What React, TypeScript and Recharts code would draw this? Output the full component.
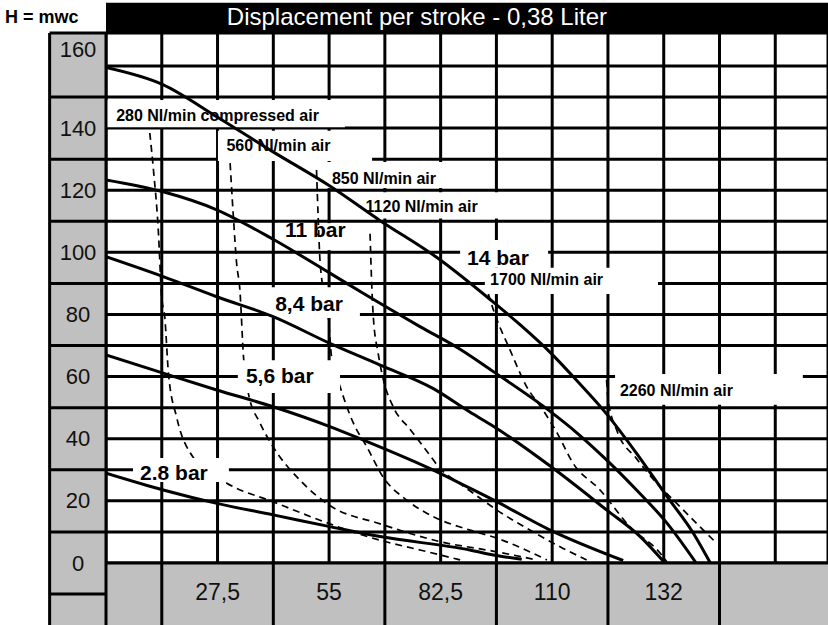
import React from 'react';
import { LineChart, Line, XAxis, YAxis, CartesianGrid, ReferenceArea, ReferenceLine } from 'recharts';

const FONT = '"Liberation Sans", Arial, Helvetica, sans-serif';

// ---- axes / ticks ----
const xDomain: [number, number] = [0, 178];
const yDomain: [number, number] = [0, 170.6];
const xGridTicks = [0, 13.75, 27.5, 41.25, 55, 68.75, 82.5, 96.25, 110, 123.75, 137.5, 151.25, 165];
const yGridTicks = [0, 10, 20, 30, 40, 50, 60, 70, 80, 90, 100, 110, 120, 130, 140, 150, 160];
const xTickValues = [27.5, 55, 82.5, 110, 137.5];
const xTickTexts = ['27,5', '55', '82,5', '110', '132'];
const yTickValues = [0, 20, 40, 60, 80, 100, 120, 140, 160];
const xBandSeparators = [13.75, 41.25, 68.75, 96.25, 123.75, 151.25];
const yColumnSeparators = [150, 130, 110, 90, 70, 50, 30, 10, -10];
const LEFT_EDGE = -13.9;
const BOTTOM_EDGE = -20;
const TITLE_TOP = 180.3;
const TITLE = 'Displacement per stroke - 0,38 Liter';
const Y_UNIT = 'H = mwc';

// ---- pressure curves (solid) ----
const bar14 = [
  { x: 0, y: 159.5 }, { x: 14, y: 154 }, { x: 27.5, y: 143.5 }, { x: 41, y: 132.5 }, { x: 55, y: 121.5 },
  { x: 67.6, y: 110.2 }, { x: 81.5, y: 98.4 }, { x: 95, y: 84.5 }, { x: 102, y: 76.8 }, { x: 109.5, y: 67.8 },
  { x: 116, y: 58.8 }, { x: 123.4, y: 48 }, { x: 130.8, y: 35.3 }, { x: 138.2, y: 21.6 }, { x: 144.8, y: 9.6 },
  { x: 149, y: 0 },
];
const bar11 = [
  { x: 0, y: 123.3 }, { x: 14.1, y: 119.5 }, { x: 27.3, y: 113.7 }, { x: 41.2, y: 104.2 }, { x: 55.2, y: 93.3 },
  { x: 63.4, y: 86.8 }, { x: 77.4, y: 76.1 }, { x: 87.3, y: 68.8 }, { x: 95.5, y: 61.6 }, { x: 109.5, y: 48.8 },
  { x: 116, y: 42 }, { x: 123.4, y: 33.2 }, { x: 130.8, y: 23.5 }, { x: 138.2, y: 13 }, { x: 145.5, y: 0 },
];
const bar84 = [
  { x: 0, y: 98.6 }, { x: 14.1, y: 92.2 }, { x: 27.3, y: 85.7 }, { x: 41.2, y: 79.3 }, { x: 55.2, y: 70.7 },
  { x: 67.6, y: 63.7 }, { x: 80.6, y: 56.2 }, { x: 89.7, y: 48.6 }, { x: 95.4, y: 44.1 }, { x: 109.5, y: 31.2 },
  { x: 123.4, y: 17.1 }, { x: 131.7, y: 8.5 }, { x: 137.8, y: 0 },
];
const bar56 = [
  { x: 0, y: 67 }, { x: 14.1, y: 61.1 }, { x: 27.3, y: 55.7 }, { x: 41.2, y: 50.3 }, { x: 55.2, y: 43.9 },
  { x: 63.4, y: 39.6 }, { x: 80.7, y: 29.9 }, { x: 89.7, y: 24.1 }, { x: 95.5, y: 20.3 }, { x: 109.5, y: 10.6 },
  { x: 127.5, y: 0.8 },
];
const bar28 = [
  { x: 0, y: 28.9 }, { x: 14.1, y: 23.5 }, { x: 27.3, y: 19.2 }, { x: 41.2, y: 15.5 }, { x: 55.2, y: 11.7 },
  { x: 67.6, y: 8.5 }, { x: 89.7, y: 4.2 }, { x: 95.5, y: 2.6 }, { x: 102.5, y: 1.2 },
];

// ---- air consumption curves (dashed) ----
const air280 = [
  { x: 10.8, y: 138.4 }, { x: 11.7, y: 126.5 }, { x: 12.9, y: 107 }, { x: 13.7, y: 86 }, { x: 14.5, y: 79 },
  { x: 15.4, y: 61 }, { x: 17.4, y: 47 }, { x: 21.5, y: 34 }, { x: 29.8, y: 25.7 }, { x: 41.2, y: 19.7 },
  { x: 55.2, y: 12.6 }, { x: 67.6, y: 7.3 }, { x: 77.4, y: 4.2 }, { x: 87.3, y: 1 },
];
const air560 = [
  { x: 30.6, y: 128.7 }, { x: 31.4, y: 111.5 }, { x: 32.2, y: 96.5 }, { x: 33, y: 88 }, { x: 33.9, y: 66.4 },
  { x: 35.1, y: 54.6 }, { x: 38, y: 45 }, { x: 41.2, y: 37.4 }, { x: 47.8, y: 26.7 }, { x: 55.2, y: 18.5 },
  { x: 67.6, y: 12.6 }, { x: 82.3, y: 6.9 }, { x: 96.3, y: 3.6 }, { x: 106.2, y: 1 },
];
const air850 = [
  { x: 51.9, y: 126.5 }, { x: 52.3, y: 111.5 }, { x: 52.8, y: 96.5 }, { x: 54.8, y: 79.3 }, { x: 55.6, y: 66.4 },
  { x: 57.7, y: 56.8 }, { x: 61, y: 45 }, { x: 64.3, y: 37.4 }, { x: 68.4, y: 27.5 }, { x: 74.1, y: 20.3 },
  { x: 80.7, y: 14.9 }, { x: 89.7, y: 10.6 }, { x: 96.3, y: 8 }, { x: 108.7, y: 1 },
];
const air1120 = [
  { x: 65.1, y: 106 }, { x: 65.5, y: 90 }, { x: 65.9, y: 79.3 }, { x: 67.1, y: 67.5 }, { x: 68.4, y: 58.9 },
  { x: 70.8, y: 50.3 }, { x: 75, y: 43 }, { x: 79.1, y: 36 }, { x: 82.3, y: 30.5 }, { x: 87.3, y: 25.5 },
  { x: 90.6, y: 22.4 }, { x: 96.3, y: 17.1 }, { x: 104.5, y: 10.6 }, { x: 112.7, y: 4.7 }, { x: 118.5, y: 1 },
];
const air1700 = [
  { x: 93.4, y: 90.5 }, { x: 95.5, y: 81.5 }, { x: 99.6, y: 68.6 }, { x: 103.7, y: 56.8 }, { x: 107.7, y: 49.3 },
  { x: 111.2, y: 41.9 }, { x: 115.1, y: 32.2 }, { x: 121.8, y: 23.5 }, { x: 129.2, y: 11.6 }, { x: 136.6, y: 3.2 },
  { x: 138.3, y: 0.3 },
];
const air2260 = [
  { x: 123.4, y: 58.9 }, { x: 123.8, y: 52.5 }, { x: 125.9, y: 42.8 }, { x: 130.8, y: 33.6 }, { x: 135.8, y: 25.7 },
  { x: 140.7, y: 19.2 }, { x: 146.4, y: 11.7 }, { x: 150.6, y: 6.3 },
];

const solidSeries = [bar14, bar11, bar84, bar56, bar28];
const dashedSeries = [air280, air560, air850, air1120, air1700, air2260];

// ---- annotations (data-space boxes and text anchors) ----
type Note = { text: string; x1: number; x2: number; y1: number; y2: number; tx: number; ty: number; size: number; weight: string; fill: string; color: string };
const notes: Note[] = [
  { text: '280 Nl/min compressed air', x1: 0, x2: 58.9, y1: 140.3, y2: 149.0, tx: 2.5, ty: 144.2, size: 16, weight: 'bold', fill: '#fff', color: '#000' },
  { text: '560 Nl/min air', x1: 27.6, x2: 65.6, y1: 129.4, y2: 139.1, tx: 29.7, ty: 134.4, size: 16, weight: 'bold', fill: '#fff', color: '#000' },
  { text: '850 Nl/min air', x1: 54.0, x2: 83.6, y1: 120.7, y2: 129.1, tx: 55.7, ty: 123.7, size: 16, weight: 'bold', fill: '#fff', color: '#000' },
  { text: '1120 Nl/min air', x1: 63.1, x2: 97.1, y1: 110.9, y2: 119.3, tx: 64.0, ty: 114.7, size: 16, weight: 'bold', fill: '#fff', color: '#000' },
  { text: '11 bar', x1: 53.0, x2: 60.6, y1: 100.7, y2: 109.4, tx: 44.1, ty: 107.4, size: 21, weight: 'bold', fill: '#fff', color: '#000' },
  { text: '14 bar', x1: 87.3, x2: 109.0, y1: 95.0, y2: 104.0, tx: 89.0, ty: 98.3, size: 21, weight: 'bold', fill: '#fff', color: '#000' },
  { text: '1700 Nl/min air', x1: 93.4, x2: 136.1, y1: 86.6, y2: 95.0, tx: 94.7, ty: 91.4, size: 16, weight: 'bold', fill: '#fff', color: '#000' },
  { text: '8,4 bar', x1: 39.9, x2: 62.6, y1: 78.9, y2: 88.8, tx: 41.7, ty: 83.6, size: 21, weight: 'bold', fill: '#fff', color: '#000' },
  { text: '5,6 bar', x1: 32.5, x2: 57.7, y1: 54.7, y2: 65.3, tx: 34.5, ty: 60.2, size: 21, weight: 'bold', fill: '#fff', color: '#000' },
  { text: '2.8 bar', x1: 6.66, x2: 30.3, y1: 26.1, y2: 33.8, tx: 8.4, ty: 29.0, size: 21, weight: 'bold', fill: '#fff', color: '#000' },
  { text: '2260 Nl/min air', x1: 125.5, x2: 171.8, y1: 50.9, y2: 60.8, tx: 126.7, ty: 55.4, size: 16, weight: 'bold', fill: '#fff', color: '#000' },
];
const titleNote: Note = { text: TITLE, x1: 0, x2: 178, y1: 170.6, y2: TITLE_TOP, tx: 29.8, ty: 175.9, size: 24, weight: 'normal', fill: '#000', color: '#fff' };

const makeLabel = (n: Note) => (props: any) => {
  const vb = props.viewBox || { x: 0, y: 0, width: 0, height: 0 };
  const sx = vb.width / (n.x2 - n.x1);
  const sy = vb.height / (n.y2 - n.y1);
  const px = vb.x + (n.tx - n.x1) * sx;
  const py = vb.y + (n.y2 - n.ty) * sy;
  return (
    <text x={px} y={py} dominantBaseline="central" fontSize={n.size} fontWeight={n.weight} fill={n.color} fontFamily={FONT}>
      {n.text}
    </text>
  );
};

// layout constants (pixels)
const COL_CENTER_PX = 78;
const BAND_CENTER_PX = 591.5;
const TOP_LABEL_SHIFT = -16;

const XTick = (props: any) => {
  const { x, payload } = props;
  const i = xTickValues.indexOf(payload.value);
  if (i < 0) return <g />;
  return (
    <text x={x} y={BAND_CENTER_PX} textAnchor="middle" dominantBaseline="central" fontSize={23} fontFamily={FONT} fill="#111">
      {xTickTexts[i]}
    </text>
  );
};

const YTick = (props: any) => {
  const { y, payload } = props;
  if (yTickValues.indexOf(payload.value) < 0) return <g />;
  const top = yTickValues[yTickValues.length - 1];
  return (
    <text x={COL_CENTER_PX} y={payload.value === top ? y + TOP_LABEL_SHIFT : y} textAnchor="middle" dominantBaseline="central" fontSize={22} fontFamily={FONT} fill="#111">
      {payload.value}
    </text>
  );
};

const LINE_STYLE = { stroke: '#000', strokeWidth: 3 };

export default function App() {
  return (
    <div style={{ position: 'absolute', left: 0, top: 0, width: 828, height: 625, background: '#fff' }}>
      <div style={{ position: 'absolute', left: 5, top: 8, fontFamily: FONT, fontWeight: 'bold', fontSize: 18, lineHeight: '18px', color: '#000', whiteSpace: 'nowrap' }}>
        {Y_UNIT}
      </div>
      <div style={{ position: 'absolute', left: 0, top: 0 }}>
        <LineChart width={828} height={625} margin={{ top: 33, right: 0, bottom: 2, left: 49 }}>
          <CartesianGrid stroke="#000" strokeWidth={3} />

          <ReferenceArea x1={LEFT_EDGE} x2={0} y1={BOTTOM_EDGE} y2={yDomain[1]} fill="#c0c0c0" fillOpacity={1} stroke="none" ifOverflow="visible" />
          <ReferenceArea x1={0} x2={xDomain[1]} y1={BOTTOM_EDGE} y2={0} fill="#c0c0c0" fillOpacity={1} stroke="none" ifOverflow="visible" />

          {yColumnSeparators.map((v) => (
            <ReferenceLine key={'ys' + v} segment={[{ x: LEFT_EDGE, y: v }, { x: 0, y: v }]} {...LINE_STYLE} ifOverflow="visible" />
          ))}
          {xBandSeparators.map((v) => (
            <ReferenceLine key={'xs' + v} segment={[{ x: v, y: BOTTOM_EDGE }, { x: v, y: 0 }]} {...LINE_STYLE} ifOverflow="visible" />
          ))}
          <ReferenceLine segment={[{ x: LEFT_EDGE, y: BOTTOM_EDGE }, { x: LEFT_EDGE, y: yDomain[1] }]} {...LINE_STYLE} ifOverflow="visible" />
          <ReferenceLine segment={[{ x: 0, y: BOTTOM_EDGE }, { x: 0, y: yDomain[1] }]} {...LINE_STYLE} ifOverflow="visible" />
          <ReferenceLine segment={[{ x: LEFT_EDGE, y: yDomain[1] }, { x: 0, y: yDomain[1] }]} {...LINE_STYLE} ifOverflow="visible" />
          <ReferenceLine segment={[{ x: 0, y: 0 }, { x: xDomain[1], y: 0 }]} {...LINE_STYLE} ifOverflow="visible" />

          {dashedSeries.map((d, i) => (
            <Line key={'air' + i} data={d} dataKey="y" type="monotone" stroke="#000" strokeWidth={1.7} strokeDasharray="7 5"
              dot={false} activeDot={false} isAnimationActive={false} zIndex={50} />
          ))}

          {notes.map((n) => (
            <ReferenceArea key={n.text} x1={n.x1} x2={n.x2} y1={n.y1} y2={n.y2} fill={n.fill} fillOpacity={1} stroke="none"
              ifOverflow="visible" label={makeLabel(n)} />
          ))}

          {solidSeries.map((d, i) => (
            <Line key={'bar' + i} data={d} dataKey="y" type="monotone" stroke="#000" strokeWidth={3}
              dot={false} activeDot={false} isAnimationActive={false} />
          ))}

          <ReferenceArea x1={titleNote.x1} x2={titleNote.x2} y1={titleNote.y1} y2={titleNote.y2} fill="#000" fillOpacity={1} stroke="none"
            ifOverflow="visible" label={makeLabel(titleNote)} />

          <XAxis type="number" dataKey="x" domain={xDomain} ticks={xGridTicks} interval={0} allowDataOverflow
            axisLine={false} tickLine={false} height={60} tick={<XTick />} />
          <YAxis type="number" domain={yDomain} ticks={yGridTicks} interval={0} allowDataOverflow
            axisLine={false} tickLine={false} width={57} tick={<YTick />} />
        </LineChart>
      </div>
    </div>
  );
}
